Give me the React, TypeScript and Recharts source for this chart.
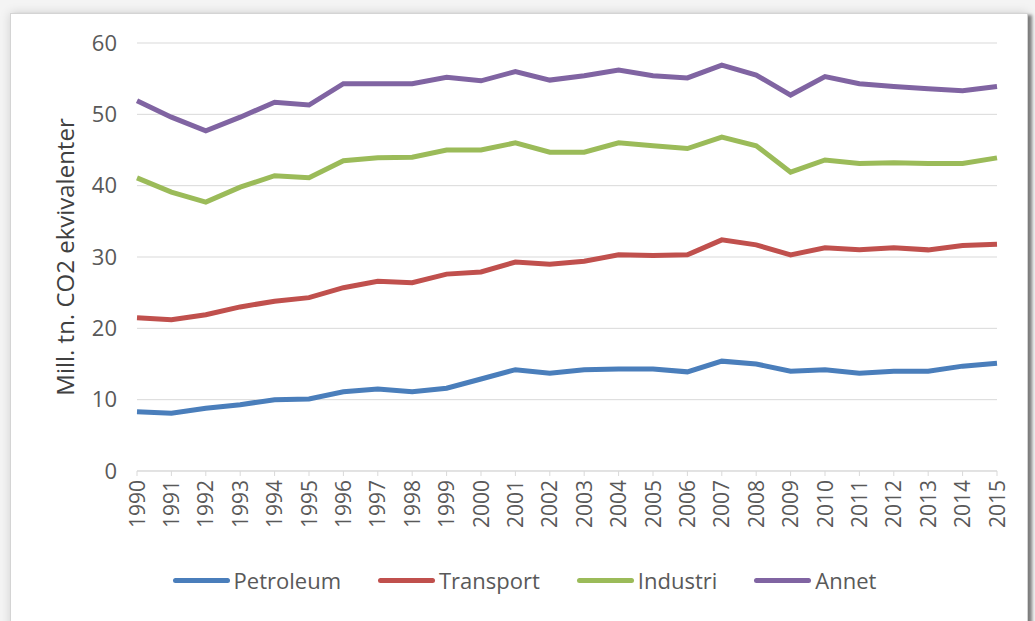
import { LineChart, Line, XAxis, YAxis, CartesianGrid, Legend } from 'recharts'

const years = [
  '1990', '1991', '1992', '1993', '1994', '1995', '1996', '1997', '1998', '1999',
  '2000', '2001', '2002', '2003', '2004', '2005', '2006', '2007', '2008', '2009',
  '2010', '2011', '2012', '2013', '2014', '2015',
]

const petroleum = [8.3, 8.1, 8.8, 9.3, 10.0, 10.1, 11.1, 11.5, 11.1, 11.6, 12.9, 14.2, 13.7, 14.2, 14.3, 14.3, 13.9, 15.4, 15.0, 14.0, 14.2, 13.7, 14.0, 14.0, 14.7, 15.1]
const transport = [21.5, 21.2, 21.9, 23.0, 23.8, 24.3, 25.7, 26.6, 26.4, 27.6, 27.9, 29.3, 29.0, 29.4, 30.3, 30.2, 30.3, 32.4, 31.7, 30.3, 31.3, 31.0, 31.3, 31.0, 31.6, 31.8]
const industri = [41.1, 39.1, 37.7, 39.8, 41.4, 41.1, 43.5, 43.9, 44.0, 45.0, 45.0, 46.0, 44.7, 44.7, 46.0, 45.6, 45.2, 46.8, 45.6, 41.9, 43.6, 43.1, 43.2, 43.1, 43.1, 43.9]
const annet = [51.9, 49.6, 47.7, 49.6, 51.7, 51.3, 54.3, 54.3, 54.3, 55.2, 54.7, 56.0, 54.8, 55.4, 56.2, 55.4, 55.1, 56.9, 55.5, 52.7, 55.3, 54.3, 53.9, 53.6, 53.3, 53.9]

const seriesNames = ['Petroleum', 'Transport', 'Industri', 'Annet']
const yTicks = [0, 10, 20, 30, 40, 50, 60]
const yLabel = 'Mill. tn. CO2 ekvivalenter'

const data = years.map((year, i) => ({
  year,
  Petroleum: petroleum[i],
  Transport: transport[i],
  Industri: industri[i],
  Annet: annet[i],
}))

const FONT = '"Open Sans", sans-serif'
const TICK_COLOR = '#595959'

function YearTick({ x, y, payload }: any) {
  return (
    <g transform={`translate(${x},${y})`}>
      <text
        transform="rotate(-90)"
        textAnchor="end"
        dy="0.36em"
        fill={TICK_COLOR}
        fontSize={21}
        fontFamily={FONT}
      >
        {payload.value}
      </text>
    </g>
  )
}

function AxisTitle({ viewBox }: any) {
  const x = viewBox.x + 64
  const y = viewBox.y + viewBox.height / 2
  return (
    <text
      x={x}
      y={y}
      transform={`rotate(-90, ${x}, ${y})`}
      textAnchor="middle"
      dominantBaseline="central"
      fill="#404040"
      fontSize={24}
      fontFamily={FONT}
    >
      {yLabel}
    </text>
  )
}

// Recharts 3 sorterer legenden alfabetisk, så vi beholder seriens egen rekkefølge
function LegendRow({ payload }: any) {
  const items = [...(payload || [])].sort(
    (a: any, b: any) => seriesNames.indexOf(a.value) - seriesNames.indexOf(b.value)
  )
  return (
    <div style={{ height: 30, paddingLeft: 52, display: 'flex', justifyContent: 'center', alignItems: 'center', fontFamily: FONT }}>
      {items.map((item: any, i: number) => (
        <div key={item.value} style={{ display: 'flex', alignItems: 'center', marginRight: i < items.length - 1 ? 37 : 0 }}>
          <span style={{ width: 57, height: 5, borderRadius: 3, background: item.color, marginRight: 4 }} />
          <span style={{ fontSize: 22, color: TICK_COLOR }}>{item.value}</span>
        </div>
      ))}
    </div>
  )
}

export default function App() {
  return (
    <div style={{ position: 'absolute', left: 0, top: 0, width: 1035, height: 621, background: '#f4f4f4', overflow: 'hidden' }}>
      <div
        style={{
          position: 'absolute',
          left: 10,
          top: 13,
          width: 1016,
          height: 620,
          background: '#fff',
          border: '1px solid #d4d4d4',
          boxShadow: '4px 2px 3px rgba(0,0,0,0.45), 0 0 10px rgba(0,0,0,0.15)',
        }}
      />
      <div style={{ position: 'absolute', left: 0, top: 0 }}>
        <LineChart width={1035} height={621} data={data} margin={{ top: 43, right: 38, bottom: 26, left: 0 }}>
          <CartesianGrid vertical={false} stroke="#d9d9d9" />
          <XAxis
            dataKey="year"
            interval={0}
            height={94}
            tick={<YearTick />}
            tickSize={5}
            tickMargin={4}
            axisLine={{ stroke: '#d9d9d9' }}
            tickLine={{ stroke: '#d9d9d9' }}
          />
          <YAxis
            width={137}
            domain={[0, 60]}
            ticks={yTicks}
            axisLine={false}
            tickLine={false}
            tickSize={0}
            tickMargin={20}
            tick={{ fontSize: 22, fontFamily: FONT, fill: TICK_COLOR }}
            label={<AxisTitle />}
          />
          <Legend verticalAlign="bottom" content={<LegendRow />} />
          <Line type="linear" dataKey="Petroleum" stroke="#4a7ebb" strokeWidth={5} dot={false} isAnimationActive={false} />
          <Line type="linear" dataKey="Transport" stroke="#c0504d" strokeWidth={5} dot={false} isAnimationActive={false} />
          <Line type="linear" dataKey="Industri" stroke="#9bbb59" strokeWidth={5} dot={false} isAnimationActive={false} />
          <Line type="linear" dataKey="Annet" stroke="#8064a2" strokeWidth={5} dot={false} isAnimationActive={false} />
        </LineChart>
      </div>
    </div>
  )
}
